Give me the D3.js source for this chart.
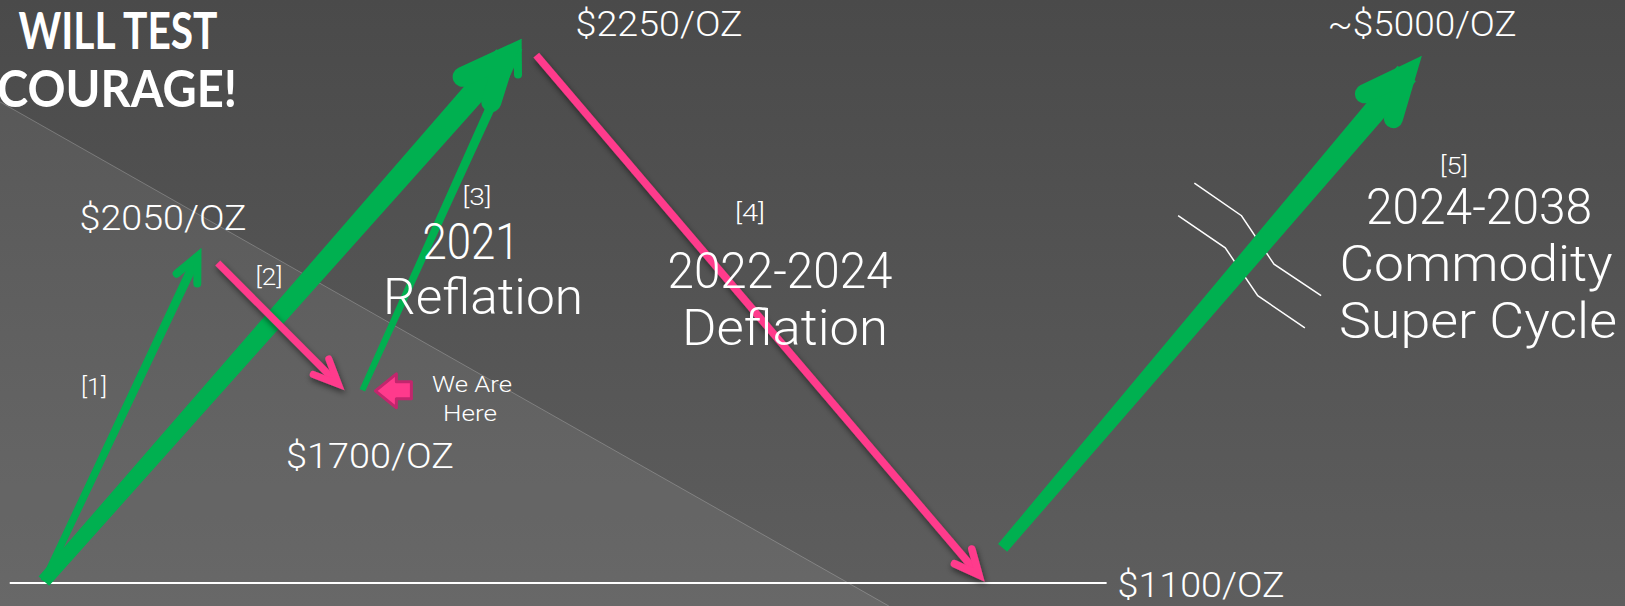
<!DOCTYPE html>
<meta charset="utf-8">
<style>
body { margin: 0; background: #4f4f4f; }
svg { display: block; }
.lbl { fill: #fff; font-family: Roboto, "DejaVu Sans", sans-serif; font-weight: 300; }
.title { fill: #fff; font-family: Lato, "DejaVu Sans", sans-serif; font-weight: 700; }
</style>
<body>
<script src="https://d3js.org/d3.v7.min.js"></script>
<script>
// legs of the gold roadmap, schematic units: x = time (0-100), y = price level (0-100)
var legs  = ["1", "2", "3", "4", "5", "run"];
var legX0 = [2.7, 13.4, 22.3, 33.0, 61.7, 2.7];
var legY0 = [4.1, 56.6, 35.6, 90.9, 9.6, 4.1];
var legX1 = [12.4, 21.2, 32.1, 60.6, 87.5, 32.1];
var legY1 = [59.1, 35.6, 93.6, 4.0, 90.8, 93.6];

// floor line and the lighter wedge behind
var floorX = [0.6, 68.1], floorY = 3.8;
var wedgeX = [0, 54.7, 0], wedgeY = [83.2, 0, 0];

// the two "break" squiggles across leg 5
var breakA = [[73.5, 69.8], [76.4, 64.4], [78.4, 56.4], [81.3, 51.2]];
var breakB = [[72.5, 64.4], [75.4, 59.1], [77.4, 51.2], [80.3, 45.9]];

// "we are here" pointer tip
var hereX = 23.1, hereY = 35.5;

// texts
var headline = ["WILL TEST", "COURAGE!"];
var priceLabels = ["$2250/OZ", "~$5000/OZ", "$2050/OZ", "$1700/OZ", "$1100/OZ"];
var phaseTags = ["[1]", "[2]", "[3]", "[4]", "[5]"];
var phaseTitles = ["2021", "Reflation", "2022-2024", "Deflation", "2024-2038", "Commodity", "Super Cycle"];
var hereNote = ["We Are", "Here"];

var width = 1625, height = 606;

var x = d3.scaleLinear().domain([0, 100]).range([0, width]);
var y = d3.scaleLinear().domain([0, 100]).range([height, 0]);

var green = "#00b050", pink = "#ff3a8c";

// how each leg is drawn: colour, shaft width at start/end, head arm length, head width
var legStyle = {
  "1":   {c: green, w0: 7,  w1: 9,  arm: 27, hw: 8,  half: 25},
  "2":   {c: pink,  w0: 7,  w1: 7,  arm: 27, hw: 7,  half: 24, shadow: true},
  "3":   {c: green, w0: 6,  w1: 10, arm: 27, hw: 8,  half: 25},
  "4":   {c: pink,  w0: 7.5,w1: 7.5,arm: 27, hw: 7.5,half: 25, shadow: true},
  "5":   {c: green, w0: 12, w1: 24, arm: 47, hw: 19, half: 24},
  "run": {c: green, w0: 14, w1: 24, arm: 47, hw: 20, half: 24}
};

var svg = d3.select("body").append("svg")
    .attr("width", width)
    .attr("height", height);

var defs = svg.append("defs");
var grad = defs.append("linearGradient").attr("id", "bg")
    .attr("x1", 0).attr("y1", 0).attr("x2", 0).attr("y2", 1);
grad.append("stop").attr("offset", 0).attr("stop-color", "#4a4a4a");
grad.append("stop").attr("offset", 1).attr("stop-color", "#5e5e5e");

var shadow = defs.append("filter").attr("id", "shadow")
    .attr("x", "-20%").attr("y", "-20%").attr("width", "140%").attr("height", "140%");
shadow.append("feDropShadow")
    .attr("dx", 1).attr("dy", 3).attr("stdDeviation", 3)
    .attr("flood-color", "#000").attr("flood-opacity", 0.55);

// background
svg.append("rect").attr("width", width).attr("height", height).attr("fill", "url(#bg)");

var wedge = wedgeX.map(function(d, i) { return [x(d), y(wedgeY[i])]; });
svg.append("polygon")
    .attr("points", wedge.join(" "))
    .attr("fill", "#fff").attr("fill-opacity", 0.065);
svg.append("line")
    .attr("x1", wedge[0][0]).attr("y1", wedge[0][1])
    .attr("x2", wedge[1][0]).attr("y2", wedge[1][1])
    .attr("stroke", "#fff").attr("stroke-opacity", 0.22).attr("stroke-width", 1);

// floor at $1100
svg.append("line")
    .attr("x1", x(floorX[0])).attr("x2", x(floorX[1]))
    .attr("y1", y(floorY)).attr("y2", y(floorY))
    .attr("stroke", "#fff").attr("stroke-width", 2);

// break marks
var brk = d3.line().x(function(d) { return x(d[0]); }).y(function(d) { return y(d[1]); });
[breakA, breakB].forEach(function(b) {
  svg.append("path").attr("d", brk(b))
     .attr("fill", "none").attr("stroke", "#fff").attr("stroke-width", 1.5);
});

// arrows, order: thin ones first, thick ones on top
var order = ["1", "3", "run", "2", "5", "4"];
order.forEach(function(name) {
  var i = legs.indexOf(name), s = legStyle[name];
  var x0 = x(legX0[i]), y0 = y(legY0[i]), tx = x(legX1[i]), ty = y(legY1[i]);
  var ang = Math.atan2(ty - y0, tx - x0);
  var ux = Math.cos(ang), uy = Math.sin(ang);
  var h = s.half * Math.PI / 180;
  // vertex sits back so the miter point lands on the tip
  var back = (s.hw / 2) / Math.sin(h);
  var vx = tx - back * ux, vy = ty - back * uy;
  var nx = -uy, ny = ux;
  var g = svg.append("g");
  if (s.shadow) g.attr("filter", "url(#shadow)");
  var shaft = [
    [x0 + nx * s.w0 / 2, y0 + ny * s.w0 / 2],
    [vx + nx * s.w1 / 2, vy + ny * s.w1 / 2],
    [vx - nx * s.w1 / 2, vy - ny * s.w1 / 2],
    [x0 - nx * s.w0 / 2, y0 - ny * s.w0 / 2]
  ];
  g.append("polygon").attr("points", shaft.join(" ")).attr("fill", s.c);
  var a1 = ang + Math.PI + h, a2 = ang + Math.PI - h;
  var head = "M" + (vx + s.arm * Math.cos(a1)) + "," + (vy + s.arm * Math.sin(a1)) +
             "L" + vx + "," + vy +
             "L" + (vx + s.arm * Math.cos(a2)) + "," + (vy + s.arm * Math.sin(a2));
  g.append("path").attr("d", head)
    .attr("fill", "none").attr("stroke", s.c).attr("stroke-width", s.hw)
    .attr("stroke-linejoin", "miter").attr("stroke-linecap", "round");
});

// "we are here" block arrow
var hx = x(hereX), hy = y(hereY);
var block = [[0, 0], [21, -17], [21, -9], [36, -9], [36, 8], [21, 8], [21, 17]]
  .map(function(p) { return [hx + p[0], hy + p[1]]; });
svg.append("polygon").attr("points", block.join(" "))
    .attr("fill", pink).attr("stroke", "#c2266d").attr("stroke-width", 3)
    .attr("stroke-linejoin", "round");

// text layout: [centre x, baseline y, width, size]
function put(list, layout, cls) {
  svg.selectAll(null).data(list).enter().append("text")
    .attr("class", cls)
    .attr("text-anchor", "middle")
    .attr("x", function(d, i) { return layout[i][0]; })
    .attr("y", function(d, i) { return layout[i][1]; })
    .attr("textLength", function(d, i) { return layout[i][2]; })
    .attr("lengthAdjust", "spacingAndGlyphs")
    .style("font-size", function(d, i) { return layout[i][3] + "px"; })
    .text(function(d) { return d; });
}

put(headline, [[118, 49, 199, 51], [117, 107, 240, 51]], "title");
put(priceLabels, [[659, 36, 167, 35], [1422, 36, 189, 35], [163, 230, 167, 35],
                  [370, 468, 168, 35], [1201, 597, 167, 35]], "lbl");
put(phaseTags, [[94, 395, 26, 23], [269, 285, 27, 23], [477, 205, 29, 23],
                [750, 221, 30, 23], [1454, 174, 28, 23]], "lbl");
put(phaseTitles, [[471, 259, 97, 50], [483, 314, 200, 50],
                  [780, 288, 225, 50], [785, 345, 206, 50],
                  [1479, 224, 226, 50], [1476, 281, 273, 50], [1478, 338, 278, 50]], "lbl");
put(hereNote, [[472, 392, 80, 22], [470, 421, 54, 22]], "lbl");
</script>
</body>
